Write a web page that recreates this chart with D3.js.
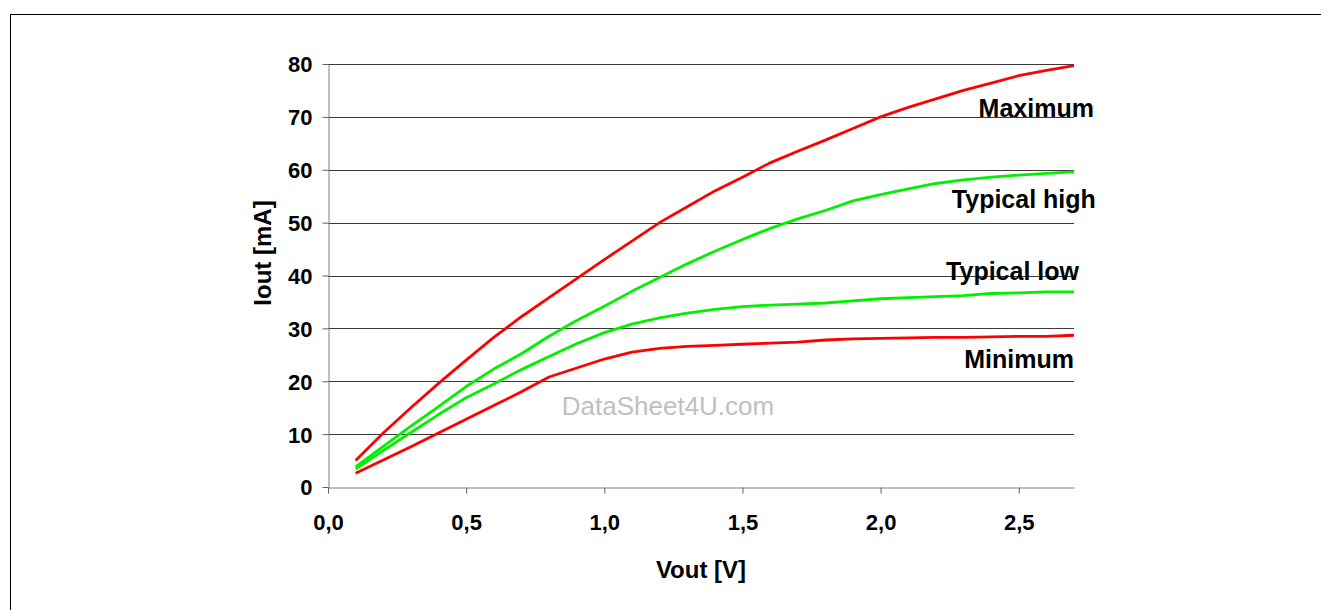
<!DOCTYPE html>
<html>
<head>
<meta charset="utf-8">
<script src="https://cdn.jsdelivr.net/npm/d3@7"></script>
<style>
  html, body { margin: 0; padding: 0; background: #fff; }
  svg { display: block; font-family: "Liberation Sans", Arial, sans-serif; }
  .tick-label { font-size: 22px; font-weight: bold; fill: #000; }
  .axis-title { font-size: 24px; font-weight: bold; fill: #000; }
  .curve-label { font-size: 25px; font-weight: bold; fill: #000; }
  .watermark { font-size: 26px; fill: #c0c0c0; }
</style>
</head>
<body>
<svg id="chart" width="1321" height="610"></svg>
<script>
// Output voltage [V] sample points, shared by all four curves.
const vout = [0.1, 0.2, 0.3, 0.4, 0.5, 0.6, 0.7, 0.8, 0.9, 1.0, 1.1, 1.2, 1.3, 1.4,
  1.5, 1.6, 1.7, 1.8, 1.9, 2.0, 2.1, 2.2, 2.3, 2.4, 2.5, 2.6, 2.7];

// Output current [mA] per curve.
const iMaximum = [5.0, 10.2, 15.0, 19.6, 24.0, 28.3, 32.2, 35.8, 39.4, 43.0, 46.5, 50.0,
  53.0, 56.0, 58.6, 61.3, 63.5, 65.6, 67.8, 70.0, 71.8, 73.4, 75.0, 76.4, 77.8, 78.8, 79.7];
const iTypicalHigh = [3.8, 7.7, 11.5, 15.2, 19.0, 22.3, 25.2, 28.5, 31.5, 34.2, 37.0, 39.6,
  42.2, 44.6, 46.8, 48.9, 50.7, 52.3, 54.1, 55.3, 56.4, 57.4, 58.1, 58.6, 59.0, 59.3, 59.6];
const iTypicalLow = [3.4, 6.9, 10.3, 13.7, 16.9, 19.5, 22.2, 24.7, 27.1, 29.2, 30.8, 32.0,
  32.9, 33.6, 34.1, 34.4, 34.6, 34.8, 35.2, 35.6, 35.8, 36.0, 36.2, 36.6, 36.7, 36.9, 36.9];
const iMinimum = [2.6, 5.1, 7.6, 10.2, 12.8, 15.4, 18.0, 20.8, 22.5, 24.2, 25.5, 26.2,
  26.6, 26.8, 27.0, 27.2, 27.4, 27.8, 28.0, 28.1, 28.2, 28.3, 28.3, 28.4, 28.5, 28.5, 28.7];

const seriesNames = ['Maximum', 'Typical high', 'Typical low', 'Minimum'];
const seriesValues = [iMaximum, iTypicalHigh, iTypicalLow, iMinimum];
// Where each curve's name sits (right end of text, baseline), in data units.
const labelAnchorV = [2.772, 2.779, 2.718, 2.70];
const labelAnchorI = [70.0, 52.8, 39.2, 22.5];

const xTicks = [0, 0.5, 1.0, 1.5, 2.0, 2.5];
const yTicks = [0, 10, 20, 30, 40, 50, 60, 70, 80];

const xTitle = 'Vout [V]';
const yTitle = 'Iout [mA]';
const watermarkText = 'DataSheet4U.com';

const colors = ['#ff0000', '#00f000', '#00f000', '#ff0000'];

const plot = {left: 328, top: 64, right: 1074, bottom: 487};

const svg = d3.select('#chart');

// Outer frame (only top and left edges fall inside the picture).
svg.append('path')
    .attr('d', 'M10.5,610 V14.5 H1321')
    .attr('fill', 'none')
    .attr('stroke', '#000')
    .attr('stroke-width', 1);

const x = d3.scaleLinear().domain([0, 2.7]).range([plot.left, plot.right]);
const y = d3.scaleLinear().domain([0, 80]).range([plot.bottom, plot.top]);

const fmtComma = d => d3.format('.1f')(d).replace('.', ',');

// Horizontal gridlines.
svg.append('g')
    .selectAll('line')
    .data(yTicks.filter(d => d > 0))
    .join('line')
    .attr('x1', plot.left)
    .attr('x2', plot.right)
    .attr('y1', d => Math.round(y(d)) + 0.5)
    .attr('y2', d => Math.round(y(d)) + 0.5)
    .attr('stroke', '#3a3a3a')
    .attr('stroke-width', 1);

// Y axis.
const yAxis = svg.append('g')
    .attr('transform', `translate(${plot.left + 0.5},0)`)
    .call(d3.axisLeft(y).tickValues(yTicks).tickSize(6).tickPadding(10).tickSizeOuter(0));

// X axis.
const xAxis = svg.append('g')
    .attr('transform', `translate(0,${plot.bottom + 0.5})`)
    .call(d3.axisBottom(x).tickValues(xTicks).tickFormat(fmtComma)
        .tickSize(6).tickPadding(21).tickSizeOuter(0));

[xAxis, yAxis].forEach(ax => {
  ax.select('.domain').attr('stroke', '#808080');
  ax.selectAll('.tick line').attr('stroke', '#606060');
  ax.selectAll('.tick text')
      .attr('class', 'tick-label')
      .attr('font-family', null)
      .attr('font-size', null);
});
yAxis.selectAll('.tick text').attr('dy', '0.36em');

// Watermark.
svg.append('text')
    .attr('class', 'watermark')
    .attr('x', 668)
    .attr('y', 415)
    .attr('text-anchor', 'middle')
    .text(watermarkText);

// Curves.
const line = d3.line()
    .x((d, i) => x(vout[i]))
    .y(d => y(d));

svg.append('g')
    .selectAll('path')
    .data(seriesValues)
    .join('path')
    .attr('d', d => line(d))
    .attr('fill', 'none')
    .attr('stroke', (d, i) => colors[i])
    .attr('stroke-width', 2.8)
    .attr('stroke-linejoin', 'round');

// Curve names.
svg.append('g')
    .selectAll('text')
    .data(seriesNames)
    .join('text')
    .attr('class', 'curve-label')
    .attr('x', (d, i) => x(labelAnchorV[i]))
    .attr('y', (d, i) => y(labelAnchorI[i]))
    .attr('text-anchor', 'end')
    .text(d => d);

// Axis titles.
svg.append('text')
    .attr('class', 'axis-title')
    .attr('x', (plot.left + plot.right) / 2)
    .attr('y', 578)
    .attr('text-anchor', 'middle')
    .text(xTitle);

svg.append('text')
    .attr('class', 'axis-title')
    .attr('transform', 'translate(271,253) rotate(-90)')
    .attr('text-anchor', 'middle')
    .text(yTitle);
</script>
</body>
</html>
